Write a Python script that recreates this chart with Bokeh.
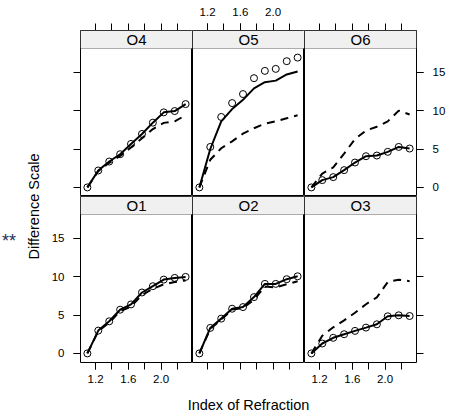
import math
from bokeh.plotting import figure
from bokeh.layouts import gridplot, row, column
from bokeh.models import (Range1d, FixedTicker, LinearAxis, BoxAnnotation, Label,
                          NumeralTickFormatter)
from bokeh.embed import file_html
from bokeh.resources import INLINE

# ---- data ----
index_refraction = [1.1, 1.233, 1.367, 1.5, 1.633, 1.767, 1.9, 2.033, 2.167, 2.3]

O1_points = [0, 2.97, 4.18, 5.69, 6.38, 7.93, 8.75, 9.61, 9.83, 9.96]
O1_dashed = [0, 2.9, 4.0, 5.5, 6.1, 7.6, 8.4, 9.0, 9.3, 9.5]
O2_points = [0, 3.32, 4.53, 5.82, 6.03, 7.33, 9.05, 9.05, 9.66, 10.04]
O2_dashed = [0, 3.2, 4.4, 5.7, 5.9, 7.0, 8.7, 8.6, 9.0, 9.4]
O3_points = [0, 1.29, 2.03, 2.5, 2.93, 3.36, 3.79, 4.83, 4.96, 4.87]
O3_dashed = [0, 2.3, 3.4, 4.3, 5.3, 6.4, 7.3, 9.3, 9.6, 9.4]
O4_points = [0, 2.2, 3.37, 4.32, 5.66, 6.96, 8.43, 9.77, 9.94, 10.85]
O4_dashed = [0, 2.1, 3.2, 4.1, 5.2, 6.4, 7.6, 8.4, 8.6, 9.4]
O5_points = [0, 5.27, 9.17, 10.98, 12.15, 14.22, 15.17, 15.43, 16.43, 16.9]
O5_solid = [0, 5.0, 8.6, 10.2, 11.4, 12.9, 13.7, 13.9, 14.7, 15.1]
O5_dashed = [0, 3.6, 5.1, 6.0, 7.0, 7.7, 8.3, 8.6, 9.0, 9.4]
O6_points = [0, 0.95, 1.34, 2.25, 3.24, 4.06, 4.15, 4.63, 5.27, 5.06]
O6_dashed = [0, 1.8, 2.6, 4.4, 6.3, 7.4, 7.9, 8.6, 10.0, 9.5]

x_ticks = [1.2, 1.4, 1.6, 1.8, 2.0, 2.2]
x_tick_labels = [1.2, 1.6, 2.0]
y_ticks = [0, 5, 10, 15]

panels = [
    # name, points, solid, dashed, row, col
    ("O4", O4_points, O4_points, O4_dashed, 0, 0),
    ("O5", O5_points, O5_solid, O5_dashed, 0, 1),
    ("O6", O6_points, O6_points, O6_dashed, 0, 2),
    ("O1", O1_points, O1_points, O1_dashed, 1, 0),
    ("O2", O2_points, O2_points, O2_dashed, 1, 1),
    ("O3", O3_points, O3_points, O3_dashed, 1, 2),
]

FONT = "Liberation Sans"
FW, FH = 112, 166
STRIP_PX = 18
PANEL_PX = FH - STRIP_PX
LEFT_B, RIGHT_B, TOP_B, BOT_B = 34, 32, 30, 30
YLAB_W = 46
TOTAL_H = 416

all_y = [v for _, a, b, c, _, _ in panels for v in a + b + c]
ymin, ymax = min(all_y), max(all_y)
ypad = 0.07 * (ymax - ymin)
ylo, yhi = ymin - ypad, ymax + ypad
strip_units = STRIP_PX * (yhi - ylo) / PANEL_PX
ytop = yhi + strip_units
xmin, xmax = min(index_refraction), max(index_refraction)
xpad = 0.07 * (xmax - xmin)
xlo, xhi = xmin - xpad, xmax + xpad


def style_axis(ax, standoff):
    ax.axis_line_color = None
    ax.major_tick_in = 0
    ax.major_tick_out = 7
    ax.minor_tick_in = 0
    ax.minor_tick_out = 7
    ax.major_tick_line_color = "black"
    ax.minor_tick_line_color = "black"
    ax.major_label_text_font = FONT
    ax.major_label_text_font_size = "11.5px"
    ax.major_label_text_color = "black"
    ax.major_label_standoff = standoff


def x_axis(labeled, standoff):
    ax = LinearAxis(ticker=FixedTicker(ticks=x_tick_labels if labeled else [],
                                       minor_ticks=x_ticks),
                    formatter=NumeralTickFormatter(format="0.0"))
    style_axis(ax, standoff)
    return ax


def y_axis(labeled, standoff):
    ay = LinearAxis(ticker=FixedTicker(ticks=y_ticks if labeled else [],
                                       minor_ticks=y_ticks))
    style_axis(ay, standoff)
    return ay


def make_panel(name, pts, solid, dashed, r, c):
    p = figure(frame_width=FW, frame_height=FH,
               x_range=Range1d(xlo, xhi), y_range=Range1d(ylo, ytop),
               x_axis_location=None, y_axis_location=None,
               toolbar_location=None, output_backend="svg",
               min_border_left=LEFT_B if c == 0 else 0,
               min_border_right=RIGHT_B if c == 2 else 0,
               min_border_top=TOP_B if r == 0 else 0,
               min_border_bottom=BOT_B if r == 1 else 0,
               background_fill_color="white", border_fill_color="white")
    p.outline_line_color = "black"
    p.outline_line_width = 1
    p.grid.visible = False

    if r == 0:
        p.add_layout(x_axis(c == 1, 8), "above")
    else:
        p.add_layout(x_axis(c != 1, 5), "below")
    if c == 0:
        p.add_layout(y_axis(r == 1, 9), "left")
    if c == 2:
        p.add_layout(y_axis(r == 0, 9), "right")

    p.line(index_refraction, dashed, line_color="black", line_width=2, line_dash="8 6")
    p.line(index_refraction, solid, line_color="black", line_width=2)
    p.scatter(index_refraction, pts, marker="circle", size=7,
              fill_color=None, line_color="black", line_width=1)

    p.add_layout(BoxAnnotation(bottom=yhi, fill_color="#f0f0f0", fill_alpha=1.0,
                               line_color="black", line_width=1))
    p.add_layout(Label(x=(xlo + xhi) / 2, y=(yhi + ytop) / 2, text=name,
                       text_align="center", text_baseline="middle",
                       text_font=FONT, text_font_size="15px", text_color="black"))
    return p


figs = [make_panel(*pn) for pn in panels]
grid = gridplot([figs[0:3], figs[3:6]], toolbar_location=None)

grid_w = LEFT_B + 3 * FW + RIGHT_B
grid_h = TOP_B + 2 * FH + BOT_B
xlab_h = TOTAL_H - grid_h

xlab = figure(width=grid_w, height=xlab_h, x_range=Range1d(0, grid_w),
              y_range=Range1d(0, xlab_h), x_axis_location=None, y_axis_location=None,
              toolbar_location=None, output_backend="svg", min_border=0,
              outline_line_color=None)
xlab.grid.visible = False
xlab.add_layout(Label(x=LEFT_B + 1.5 * FW, y=12, text="Index of Refraction",
                      text_align="center", text_baseline="alphabetic",
                      text_font=FONT, text_font_size="14.5px", text_color="black"))

ylab = figure(width=YLAB_W, height=TOTAL_H, x_range=Range1d(0, YLAB_W),
              y_range=Range1d(0, TOTAL_H),
              x_axis_location=None, y_axis_location=None, toolbar_location=None,
              output_backend="svg", min_border=0, outline_line_color=None)
ylab.grid.visible = False
ylab.add_layout(Label(x=33, y=TOTAL_H - 206, text="Difference Scale", angle=math.pi / 2,
                      text_align="center", text_baseline="alphabetic",
                      text_font=FONT, text_font_size="14.5px", text_color="black"))
ylab.add_layout(Label(x=1.5, y=TOTAL_H - 240, text="**", text_align="left",
                      text_baseline="alphabetic", text_font=FONT,
                      text_font_size="18px", text_color="#1c2f5e"))

layout = row(ylab, column(grid, xlab))
open("out.html", "w").write(file_html(layout, INLINE))
